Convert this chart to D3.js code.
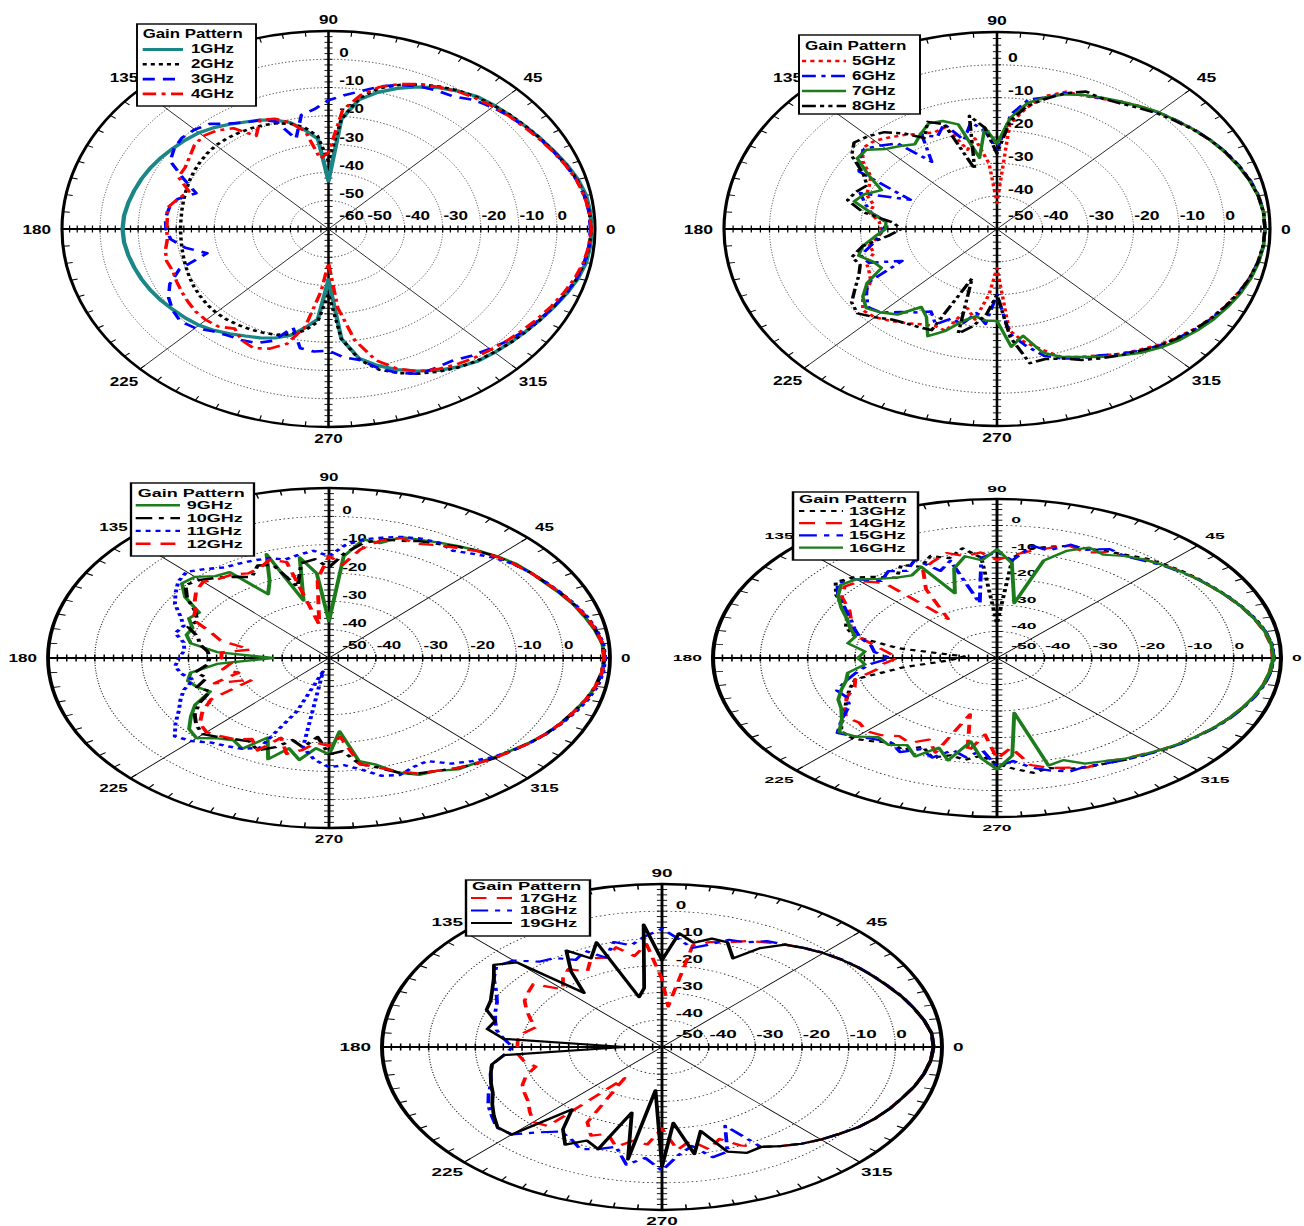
<!DOCTYPE html>
<html><head><meta charset="utf-8">
<script src="https://cdn.jsdelivr.net/npm/d3@7"></script>
<style>
body{margin:0;background:#fff}
svg{display:block}
text{font-family:"Liberation Sans",Arial,sans-serif;font-weight:bold;fill:#000}
</style>
</head><body>
<svg id="chart" width="1304" height="1226"></svg>
<script>
// ---------------- DATA (angle in degrees, gain in dB) ----------------
const ANGLES = [0,5,10,15,20,25,30,35,40,45,50,55,60,65,70,75,80,85,90,95,
  100,105,110,115,120,125,130,135,140,145,150,155,160,165,170,175,180,185,190,195,
  200,205,210,215,220,225,230,235,240,245,250,255,260,265,270,275,280,285,290,295,
  300,305,310,315,320,325,330,335,340,345,350,355];
const ANGLE_LABELS = [0,45,90,135,180,225,270,315];
const LEGEND_TITLE = "Gain Pattern";

// Plot 1
const GAIN_1GHZ = [9.2,9.0,8.7,7.8,6.6,5.3,4.2,3.2,2.4,1.7, 1.0,-0.5,-2.3,-4.6,-7.1,-10,-13.5,-21,-43,-28,
  -24.5,-21,-19,-17.5,-16.3,-14.8,-13.2,-11.9,-11,-10.2, -9.3,-8.5,-7.8,-7.2,-6.6,-6.1,-5.9,-6.1,-6.6,-7.2,
  -7.8,-8.5,-9.3,-10.2,-11,-11.9,-13.2,-14.8,-16.3,-17.5, -19,-21,-24.5,-28,-42,-21,-13.5,-10,-7.1,-4.6,
  -2.3,-0.5,1.0,1.7,2.4,3.2,4.2,5.3,6.6,7.8, 8.7,9.0];
const GAIN_2GHZ = [9,8.8,8.3,7.6,6.4,5.2,4.2,3.3,2.5,1.6, 0.8,-0.3,-1.8,-3.6,-5.8,-8.5,-13,-21,-36,-27,
  -23.5,-21.5,-20.2,-19.5,-19,-18.6,-18.3,-18.2,-18.4,-18.8, -19.2,-19.7,-20.2,-20.6,-20.9,-21.1,-21.1,-21.1,-20.9,-20.6,
  -20.2,-19.7,-19.2,-18.8,-18.4,-18.2,-18.3,-18.6,-19,-19.5, -20.2,-21.5,-23.5,-27,-37,-21,-13,-8.5,-5.8,-3.6,
  -1.8,-0.3,0.8,1.6,2.5,3.3,4.2,5.2,6.4,7.6, 8.3,8.8];
const GAIN_3GHZ = [8.8,8.7,8.2,7.4,6.3,5.1,4.0,3.0,2.0,0.9, -0.5,-2.8,-3.4,-4.3,-5.8,-7.8,-10.5,-12.5,-14.5,-17.5,
  -19,-27,-19.5,-17.5,-16.5,-14.5,-11.5,-10.3,-9.8,-10.5, -12,-18,-23,-19,-17.5,-17,-17.3,-18.4,-21.8,-27,
  -18.3,-14,-11.5,-10,-9.2,-10.5,-12.8,-14,-14.6,-15.5, -18,-24,-17.2,-16.5,-17,-14.5,-13,-9,-5.8,-3.5,
  -3.4,-3.2,-1.5,-0.1,1.5,2.8,4.0,5.2,6.4,7.5, 8.2,8.7];
const GAIN_4GHZ = [9,8.8,8.2,7.4,6.2,5,3.8,2.8,2,1.2, 0.3,-0.7,-2,-3.5,-5.5,-8,-12,-18,-33,-35,
  -25,-21,-18.5,-17.5,-22,-16.5,-14.5,-13.5,-14,-15.5, -16.5,-16.5,-21,-19,-17,-17.5,-17.5,-17.5,-16.5,-16,
  -16.5,-16,-15.5,-15,-14.5,-14.5,-15,-17,-14.5,-13.5, -15,-18,-25,-38,-48,-32,-20,-12,-7.5,-4.5,
  -2.8,-1.5,-0.5,0.3,1.3,2.3,3.4,4.6,5.8,7, 8,8.7];

// Plot 2
const GAIN_5GHZ = [8.9,8.8,8.3,7.5,6.5,5.3,4.1,2.8,1.4,0.2, -1.2,-2.6,-4.2,-5.2,-5.5,-8,-12.5,-18,-42,-30,
  -22,-25,-17,-17.5,-16.5,-15,-13.5,-12,-11.5,-14, -18,-19,-19.5,-22,-21.5,-24,-24.5,-24,-21.5,-22,
  -19.5,-19,-18,-14,-11.5,-12,-13.5,-15,-16.5,-17.5, -17,-25,-22,-30,-38,-19,-15,-12,-8.5,-7,
  -5.5,-3.5,-1.8,0,1.5,3,4.3,5.4,6.5,7.5, 8.3,8.8];
const GAIN_6GHZ = [8.9,8.8,8.4,7.6,6.6,5.5,4.2,2.9,1.5,0.2, -1.3,-2.8,-4,-5,-6,-8.5,-10,-15,-26,-20,
  -17,-22,-16,-19,-17,-25,-16,-14,-12,-13, -15,-29,-18,-20,-22,-26,-25,-24,-22,-19,
  -20,-27,-17,-15,-13,-14,-17,-19,-21,-18, -21,-20,-24,-21,-30,-18,-14,-10,-8,-6.5,
  -5.5,-3.5,-1.5,0.3,1.8,3.2,4.5,5.6,6.6,7.6, 8.3,8.8];
const GAIN_7GHZ = [8.9,8.8,8.3,7.4,6.4,5.3,4.1,2.8,1.4,0.3, -1.2,-2.6,-3.8,-5,-6.3,-8.5,-11,-16,-24,-19,
  -28,-17,-15,-14.5,-16.5,-18.5,-17,-15.5,-12.5,-12.5, -17.5,-22,-19,-17.5,-22,-25.5,-25.5,-23,-20,-18.5,
  -21,-22,-17,-14,-12.5,-14,-16,-21,-19,-14, -17,-21,-23,-22,-22,-14,-17,-11,-8.5,-7,
  -5,-3,-0.8,1,2.5,3.8,5,6,7,7.8, 8.4,8.8];
const GAIN_8GHZ = [8.9,8.8,8.3,7.5,6.5,5.4,4.2,2.7,1.2,-0.2, -1.8,-3.2,-4,-3.8,-6,-9,-12,-17,-27,-19,
  -15,-31,-16,-14,-18,-14.5,-11.5,-10,-9,-11, -16,-18.5,-17,-16,-20,-27,-29,-26,-20,-17,
  -18,-16.5,-14,-11,-10,-12,-14,-15,-15.5,-16, -34,-17,-20,-24,-30,-17,-8.5,-9,-8,-6,
  -4.5,-3,-1.5,0.3,1.8,3.2,4.4,5.5,6.6,7.5, 8.2,8.7];

// Plot 3
const GAIN_9GHZ = [8.8,8.6,7.6,6.5,5.5,4.3,3.2,2.6,1.9,0.8, -0.5,-1.8,-3,-4,-4.6,-8,-7.5,-14,-37,-20,
  -14,-29,-11,-20,-24,-13,-12.3,-9.5,-9,-12.5, -18,-17,-19,-18.5,-20,-26,-38,-26,-20,-18.8,
  -20,-22,-17,-14,-11,-10,-13,-14.5,-13,-19, -12,-17,-13.5,-18,-16,-24,-13,-11,-7,-4.5,
  -4,-2,-1.5,-0.3,0.8,2.2,3.5,4.6,5.6,6.8, 7.8,8.5];
const GAIN_10GHZ = [8.8,8.6,7.8,6.8,5.6,4.5,3.4,2.5,1.6,0.6, -0.7,-2,-3.5,-4.5,-6,-6.5,-9,-13,-18,-15,
  -16,-24,-15,-14,-17,-15,-13,-11,-10,-13, -17,-19,-18,-21,-22,-24,-24.5,-24,-21,-23,
  -20,-22,-18,-15,-13,-12,-13.5,-15,-16,-14, -16.5,-20,-18,-22,-16,-17,-12,-10,-7,-5,
  -4,-2.5,-1.2,0,1,2.3,3.5,4.6,5.6,6.8, 7.8,8.5];
const GAIN_11GHZ = [9,8.8,8,7,5.8,4.6,3.5,2.5,1.5,0, -2,-3.8,-3,-3.5,-4.5,-6,-7.5,-10,-14,-12,
  -13,-14,-12.5,-12,-11.5,-11,-9,-7,-8,-10, -12,-15,-17,-16,-18.5,-19,-18,-17,-18,-20,
  -17,-15,-13,-10,-7,-8.5,-11,-12,-13,-15, -30,-45,-18,-14,-11.5,-12,-10,-7,-6,-7.5,
  -8,-4.5,-2.5,-0.5,1,2.3,3.6,4.8,6,7.2, 8.2,8.8];
const GAIN_12GHZ = [8.8,8.6,7.8,6.8,5.6,4.5,3.4,2.5,1.6,0.6, -0.8,-2.5,-4,-5.5,-5,-7,-11,-17,-14,-22,
  -38,-15,-13,-15,-15.5,-14,-13.5,-12,-13,-15, -17,-18,-23,-26,-33,-27,-27,-29,-27,-30,
  -24,-32,-21,-17,-14,-13,-14,-15,-17,-14, -20,-15,-17,-20,-19,-22,-12,-10,-7.5,-5,
  -4,-2.5,-1.2,0,1,2.3,3.5,4.6,5.6,6.8, 7.8,8.5];

// Plot 4
const GAIN_13GHZ = [8.5,8.3,7.6,6.6,5.4,4.2,3,2,1,0, -1,-2.5,-3.5,-4.5,-5,-6.5,-8,-12,-37,-12,
  -8,-11,-9,-12,-9.5,-13,-10,-7,-5.5,-8.5, -13,-15,-16,-19,-29,-43,-42,-40,-30,-19,
  -17,-15,-13,-10,-7,-7,-9,-11,-10,-13, -10,-12,-11,-13,-10,-8,-6,-7,-5.5,-4.5,
  -4,-3,-2,-0.8,0.5,1.5,2.8,4,5.2,6.3, 7.3,8];
const GAIN_14GHZ = [8.3,8.1,7.4,6.4,5.2,4,2.8,1.8,0.8,-0.3, -1.5,-3,-4,-6,-5,-7,-9,-11,-13,-10,
  -11,-9,-11,-13,-20,-32,-13,-9,-8,-10, -14,-16,-17,-20,-24,-27,-29,-26,-24,-19,
  -18,-15,-13,-11,-12,-11,-12,-14,-13,-16, -12,-28,-14,-21,-12,-16,-9,-7,-6,-4.5,
  -5,-3.5,-2.5,-1,0.3,1.5,2.8,4,5.2,6.3, 7.2,7.9];
const GAIN_15GHZ = [8.5,8.3,7.6,6.5,5.3,4.1,2.9,1.8,0.6,-0.6, -2,-3,-2.5,-5,-4.5,-8,-7,-13,-10,-12,
  -29,-12,-15,-9,-12,-10,-12,-8,-6,-9, -13,-16,-18,-20,-23,-24,-27.5,-23,-20,-17,
  -14,-15,-14,-10,-6,-8,-10,-11,-9,-12, -10,-14,-12,-15,-9,-11,-8,-6,-4.5,-5,
  -4,-3,-2,-0.8,0.5,1.7,3,4.2,5.3,6.4, 7.4,8.1];
const GAIN_16GHZ = [8.4,8.2,7.5,6.4,5.3,4.1,2.9,1.8,0.7,-0.4, -1.5,-3,-5,-4,-7,-12,-29,-14,-9,-13,
  -11,-15,-24,-12,-14,-13,-11,-8,-7,-9, -12,-15,-17,-19,-18,-22,-20.6,-22,-18,-17,
  -15,-13,-12,-10,-6.5,-8,-11,-10,-12,-9, -14,-10,-18,-12,-8,-13,-29,-8,-9,-6,
  -5,-3.5,-2.3,-1,0.3,1.5,2.8,4,5.1,6.2, 7.2,7.9];

// Plot 5
const GAIN_17GHZ = [8.2,8,7,5.8,4.6,3.3,2.2,1.2,0.1,-1.1, -2.5,-4,-5.5,-7,-9,-10,-12,-35,-25,-12,
  -16,-12,-15,-14,-18,-15,-17,-20,-14,-15, -16,-18,-20,-22,-20,-19,-19,-19,-20,-22,
  -19,-17,-16,-15,-13,-11,-12,-36,-18,-14, -16,-12,-15,-14,-20,-12,-15,-11,-14,-10,
  -7.5,-5.5,-3.5,-1.8,-0.3,1.4,2.7,3.8,4.8,6, 7,7.8];
const GAIN_18GHZ = [8.2,8,7,5.8,4.7,3.4,2.3,1.3,0.2,-1, -2.4,-4,-5,-7.5,-8,-11,-13,-10,-6.5,-9,
  -12,-10,-15,-11,-13,-10,-9,-5,-3.7,-6, -9,-11,-12,-13,-14,-16,-18,-16,-13,-12,
  -11,-9,-7,-5.5,-3.8,-4.5,-9,-12,-11,-8.5, -10,-12,-6,-9,-4.5,-10,-13,-8,-9,-18,
  -7.5,-5.5,-3.5,-1.8,-0.3,1.4,2.7,3.8,4.8,6, 7,7.8];
const GAIN_19GHZ = [8.2,8,7,5.8,4.6,3.3,2.2,1.2,0.1,-1.1, -2.5,-4,-8,-14,-9,-8.7,-11,-8,-18,-4.8,
  -28,-31,-9,-14,-9,-16,-24,-6,-3,-6, -8,-9.5,-10,-13,-12,-16,-42,-16,-13,-12,
  -11,-10,-8,-6,-4,-4.4,-20,-13,-8.5,-12, -10,-25,-8,-34,-6,-22,-10,-18,-9,-7,
  -7.5,-5.5,-3.5,-1.8,-0.3,1.4,2.7,3.8,4.8,6, 7,7.8];

// ---------------- STYLES / LAYOUT ----------------
const RED = "#ff0000", BLUE = "#0000ff", GREEN = "#1c7c1c", TEAL = "#1a8686", BLACK = "#000000";
const DOT = "3,3", DASH = "9,6", DASHDOT = "10,4,3,4", DASHDOTDOT = "10,3,3,3,3,3";

const PLOTS = [
  { cx:328.5, cy:229, rx:266.5, ry:198, min:-60, fs:12.7, lw:2.6,
    series:[
      {name:"1GHz", values:GAIN_1GHZ, color:TEAL, dash:null, w:3.2},
      {name:"2GHz", values:GAIN_2GHZ, color:BLACK, dash:DOT},
      {name:"3GHz", values:GAIN_3GHZ, color:BLUE, dash:DASH},
      {name:"4GHz", values:GAIN_4GHZ, color:RED, dash:DASHDOT}],
    legend:{left:137, top:24, w:119, h:82, tx:5.7, tb:14.3, b0:29.5, step:14.8, lx0:5.7, lx1:46, lab:54, fs:12.5} },
  { cx:997, cy:229, rx:273, ry:197, min:-50, fs:12.7, lw:2.5,
    series:[
      {name:"5GHz", values:GAIN_5GHZ, color:RED, dash:DOT},
      {name:"6GHz", values:GAIN_6GHZ, color:BLUE, dash:DASHDOT},
      {name:"7GHz", values:GAIN_7GHZ, color:GREEN, dash:null},
      {name:"8GHz", values:GAIN_8GHZ, color:BLACK, dash:DASHDOTDOT}],
    legend:{left:799, top:35, w:121, h:79, tx:6, tb:15, b0:30, step:15, lx0:3, lx1:47, lab:53, fs:12.3} },
  { cx:329, cy:658, rx:281, ry:170, min:-50, fs:10.3, lw:2.4,
    series:[
      {name:"9GHz", values:GAIN_9GHZ, color:GREEN, dash:null},
      {name:"10GHz", values:GAIN_10GHZ, color:BLACK, dash:DASHDOT},
      {name:"11GHz", values:GAIN_11GHZ, color:BLUE, dash:DOT},
      {name:"12GHz", values:GAIN_12GHZ, color:RED, dash:DASH}],
    legend:{left:131, top:483, w:123, h:73, tx:6.7, tb:13.7, b0:26.3, step:12.8, lx0:4.7, lx1:49, lab:55.7, fs:10.9} },
  { cx:997, cy:658, rx:284, ry:159, min:-50, fs:9.8, lw:2.2,
    series:[
      {name:"13GHz", values:GAIN_13GHZ, color:BLACK, dash:DOT},
      {name:"14GHz", values:GAIN_14GHZ, color:RED, dash:DASH},
      {name:"15GHz", values:GAIN_15GHZ, color:BLUE, dash:DASHDOT},
      {name:"16GHz", values:GAIN_16GHZ, color:GREEN, dash:null}],
    legend:{left:793, top:492, w:125, h:68, tx:6, tb:11.5, b0:23, step:12.2, lx0:6, lx1:50, lab:56, fs:10.2} },
  { cx:662, cy:1047, rx:280, ry:163, min:-50, fs:11, lw:2.2,
    series:[
      {name:"17GHz", values:GAIN_17GHZ, color:RED, dash:DASH},
      {name:"18GHz", values:GAIN_18GHZ, color:BLUE, dash:DASHDOT},
      {name:"19GHz", values:GAIN_19GHZ, color:BLACK, dash:null}],
    legend:{left:466, top:880, w:124, h:56, tx:6, tb:10.5, b0:22, step:12.5, lx0:5, lx1:46, lab:54, fs:10.7} }
];

const svg = d3.select("#chart");
const rad = d => d * Math.PI / 180;

function drawPlot(p) {
  const sx = p.rx / p.ry, R = p.ry;
  const g = svg.append("g").attr("transform", `translate(${p.cx},${p.cy}) scale(${sx},1)`);
  const r = d3.scaleLinear().domain([p.min, 10]).range([0, R]);
  const ringVals = d3.range(p.min + 10, 10, 10);

  // dotted grid rings
  g.selectAll(null).data(ringVals).join("circle")
    .attr("r", d => r(d)).attr("fill", "none")
    .attr("stroke", "#222").attr("stroke-width", 0.7).attr("stroke-dasharray", "1,1.6");

  // diagonal radial lines
  g.selectAll(null).data([45, 135, 225, 315]).join("line")
    .attr("x1", 0).attr("y1", 0)
    .attr("x2", d => R * Math.cos(rad(d))).attr("y2", d => -R * Math.sin(rad(d)))
    .attr("stroke", "#000").attr("stroke-width", 0.7);

  // angular ticks every 5 degrees
  const angTicks = d3.range(0, 360, 5);
  g.selectAll(null).data(angTicks).join("line")
    .attr("x1", d => R * Math.cos(rad(d))).attr("y1", d => -R * Math.sin(rad(d)))
    .attr("x2", d => (R - 5) * Math.cos(rad(d))).attr("y2", d => -(R - 5) * Math.sin(rad(d)))
    .attr("stroke", "#000").attr("stroke-width", 0.9);

  // outer circle
  g.append("circle").attr("r", R).attr("fill", "none").attr("stroke", "#000").attr("stroke-width", 2.3);

  // main axes
  g.append("line").attr("x1", -R).attr("x2", R).attr("y1", 0).attr("y2", 0)
    .attr("stroke", "#000").attr("stroke-width", 2.2);
  g.append("line").attr("y1", -R).attr("y2", R).attr("x1", 0).attr("x2", 0)
    .attr("stroke", "#000").attr("stroke-width", 2.2 / Math.sqrt(sx));

  // axis ticks every 2 dB on all four half axes
  const axVals = d3.range(p.min + 2, 10, 2);
  const tickData = [];
  axVals.forEach(v => { tickData.push({x: r(v), y: 0, h: true}); tickData.push({x: -r(v), y: 0, h: true});
                        tickData.push({x: 0, y: r(v), h: false}); tickData.push({x: 0, y: -r(v), h: false}); });
  g.selectAll(null).data(tickData).join("line")
    .attr("x1", d => d.h ? d.x : -3).attr("x2", d => d.h ? d.x : 3)
    .attr("y1", d => d.h ? -3.5 : d.y).attr("y2", d => d.h ? 3.5 : d.y)
    .attr("stroke", "#000").attr("stroke-width", 0.9);

  // radial value labels: horizontal row
  const rowVals = d3.range(p.min, 1, 10);
  g.selectAll(null).data(rowVals).join("text")
    .attr("x", d => d === p.min ? 8 : r(d) + 0.5).attr("y", -9)
    .attr("font-size", p.fs).text(d => d);
  // vertical column
  const colVals = d3.range(p.min + 10, 1, 10);
  g.selectAll(null).data(colVals).join("text")
    .attr("x", 8).attr("y", d => -r(d) - 2.5)
    .attr("font-size", p.fs).text(d => d);

  // angle labels
  const gap = 11 / sx;
  ANGLE_LABELS.forEach(a => {
    const t = g.append("text").attr("font-size", p.fs).text(a);
    if (a === 0) t.attr("x", R + gap).attr("y", 0).attr("dominant-baseline", "central").attr("text-anchor", "start");
    else if (a === 180) t.attr("x", -R - gap).attr("y", 0).attr("dominant-baseline", "central").attr("text-anchor", "end");
    else if (a === 90) t.attr("x", 0).attr("y", -R - 7).attr("text-anchor", "middle");
    else if (a === 270) t.attr("x", 0).attr("y", R + 7).attr("dominant-baseline", "hanging").attr("text-anchor", "middle");
    else t.attr("x", 1.085 * R * Math.cos(rad(a))).attr("y", -1.085 * R * Math.sin(rad(a)))
          .attr("dominant-baseline", "central").attr("text-anchor", "middle");
  });

  // curves
  const line = d3.lineRadial()
    .angle(d => rad(90 - d[0]))
    .radius(d => r(Math.max(p.min, d[1])))
    .curve(d3.curveLinearClosed);
  p.series.forEach(s => {
    g.append("path").datum(ANGLES.map((a, i) => [a, s.values[i]]))
      .attr("d", line).attr("fill", "none")
      .attr("stroke", s.color).attr("stroke-width", s.w || p.lw)
      .attr("stroke-dasharray", s.dash).attr("stroke-linejoin", "round");
  });

  // legend
  const L = p.legend;
  const lg = svg.append("g").attr("transform", `translate(${L.left},${L.top}) scale(${sx},1)`);
  lg.append("rect").attr("x", 0).attr("y", 0).attr("width", L.w / sx).attr("height", L.h)
    .attr("fill", "#fff").attr("stroke", "#000").attr("stroke-width", 1.4);
  lg.append("text").attr("x", L.tx / sx).attr("y", L.tb).attr("font-size", L.fs).text(LEGEND_TITLE);
  p.series.forEach((s, i) => {
    const y = L.b0 + i * L.step;
    lg.append("line").attr("x1", L.lx0 / sx).attr("x2", L.lx1 / sx).attr("y1", y - 4).attr("y2", y - 4)
      .attr("stroke", s.color).attr("stroke-width", s.w || p.lw).attr("stroke-dasharray", s.dash);
    lg.append("text").attr("x", L.lab / sx).attr("y", y).attr("font-size", L.fs).text(s.name);
  });
}

PLOTS.forEach(drawPlot);
</script>
</body></html>
